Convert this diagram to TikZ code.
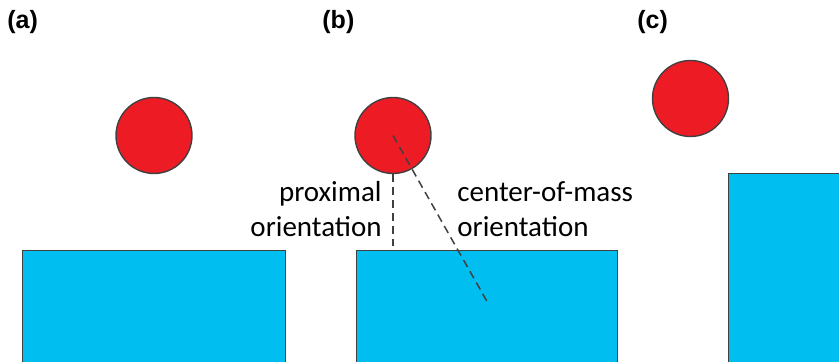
\documentclass[tikz,border=0pt]{standalone}
\usepackage{fontspec}
\setmainfont{Carlito}
\newfontfamily\panelfont{Liberation Sans}
\usetikzlibrary{positioning}
\definecolor{ballred}{RGB}{237,28,36}
\definecolor{slabblue}{RGB}{0,190,240}
\definecolor{edgegray}{RGB}{64,64,64}
\tikzset{
  ball/.style={circle, draw=edgegray, fill=ballred, line width=0.7pt, minimum size=38pt, inner sep=0pt},
  slab/.style={draw=edgegray, fill=slabblue, line width=0.7pt, anchor=north west, inner sep=0pt},
  panel/.style={font=\panelfont\bfseries\fontsize{12.5}{14}\selectfont, anchor=north west, inner sep=0pt},
  lbl/.style={font=\fontsize{14.5}{17.5}\selectfont, inner sep=0pt},
  guide/.style={edgegray, line width=0.75pt, dash pattern=on 4pt off 2.5pt}
}

\begin{document}
\begin{tikzpicture}[x=0.5pt,y=-0.5pt]
        \clip (0,0) rectangle (839,362);
        % panel letters
        \node[panel] (pa) at (7,10) {(a)};
        \node[panel] (pb) at (322,10) {(b)};
        \node[panel] (pc) at (637,10) {(c)};
        % surfaces
        \node[slab, minimum width=131.5pt, minimum height=60pt] (slaba) at (22,250) {};
        \node[slab, minimum width=130.5pt, minimum height=60pt] (slabb) at (356,250) {};
        \node[slab, minimum width=70pt, minimum height=100pt] (slabc) at (728,173) {};
        % particles
        \node[ball] (balla) at (154,135.5) {};
        \node[ball] (ballb) at (393,135.5) {};
        \node[ball] (ballc) at (690.5,98.5) {};
        % orientations
        \coordinate (comend) at (489,305);
        \draw[guide, shorten >=2pt] (ballb.south) -- (ballb.south |- slabb.north);
        \draw[guide] (ballb.center) -- (comend);
        \node[lbl, align=right, anchor=base east] (prox) at (382,237) {proximal\\orientation};
        \node[lbl, align=left, anchor=base west] (com) at (457,237) {center-of-mass\\orientation};
      \end{tikzpicture}
\end{document}
